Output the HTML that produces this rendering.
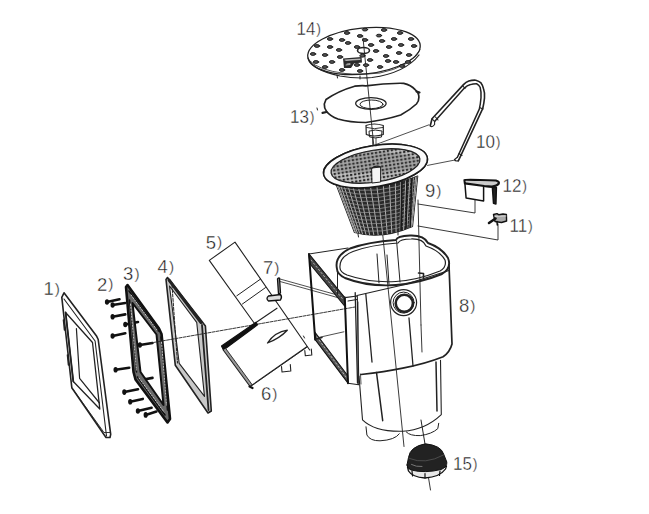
<!DOCTYPE html>
<html><head><meta charset="utf-8"><style>
html,body{margin:0;padding:0;background:#fff;width:649px;height:514px;overflow:hidden}
svg{display:block}
text{font-family:"Liberation Sans",sans-serif;font-size:18.5px;fill:#1a1a1a;stroke:#fff;stroke-width:0.35px}
</style></head><body>
<svg width="649" height="514" viewBox="0 0 649 514">
<defs>
<pattern id="mesh" width="4" height="4" patternUnits="userSpaceOnUse">
<rect width="4" height="4" fill="#2a2a2a"/>
<rect x="1.4" y="1.2" width="2" height="2" fill="#ddd"/>
</pattern>
<pattern id="meshIn" width="4" height="3.6" patternUnits="userSpaceOnUse">
<rect width="4" height="3.6" fill="#c4c4c4"/>
<rect x="0.9" y="0.8" width="2.4" height="2.1" fill="#262626"/>
</pattern>
</defs>
<g fill="none" stroke="#222" stroke-width="1" stroke-linejoin="round" stroke-linecap="round">

<!-- ===== PART 1 frame ===== -->
<g id="p1">
<path d="M61.8,297.4 L64,292.8 L96.7,336.3 L98.2,339.5 L110.7,434.3 L110,437.5 L106,437.5 L71.8,387.7 Z" stroke-width="1.6"/>
<path d="M64,299 L95.1,341 L106.5,436" stroke-width="1.1"/>
<path d="M65.6,312.5 L92.5,342.5 L99.8,409 L73.3,381.5 Z" stroke-width="1.3"/>
<path d="M65.6,312.5 L73.3,381.5" stroke-width="1.8"/>
<path d="M76.4,328.6 L79.6,378.3 L99.5,403" stroke-width="1.2"/>
<path d="M71.8,387.7 L104,432.5 L110.5,432.5" stroke-width="0.9"/>
<path d="M63.5,320 L64.5,330 M67.5,355 L68.5,365" stroke-width="1.6"/>
</g>

<!-- ===== PART 2 screws ===== -->
<g id="p2" stroke="#111" stroke-width="2.6" stroke-linecap="round">
<path d="M107,302 L119.5,299.2"/>
<path d="M112.6,305 L125.3,303"/>
<path d="M112.6,316.7 L125.3,314.4"/>
<path d="M125.3,324.5 L138,322"/>
<path d="M112.6,336 L125.3,333.2"/>
<path d="M139.9,345 L152.5,343"/>
<path d="M115.6,369.7 L129.2,367.8"/>
<path d="M143.8,379.5 L152.5,377.9"/>
<path d="M124.3,392.1 L138,389.2"/>
<path d="M130.2,401.8 L142.8,398.9"/>
<path d="M137.9,411 L151.6,407.7"/>
<path d="M145.7,414.9 L156.4,411.6"/>
</g>
<g fill="#111" stroke="none">
<ellipse cx="107" cy="302" rx="2.1" ry="2.8"/><ellipse cx="112.6" cy="305" rx="2.1" ry="2.8"/><ellipse cx="112.6" cy="316.7" rx="2.1" ry="2.8"/>
<ellipse cx="125.3" cy="324.5" rx="2.1" ry="2.8"/><ellipse cx="112.6" cy="336" rx="2.1" ry="2.8"/><ellipse cx="139.9" cy="345" rx="2.1" ry="2.8"/>
<ellipse cx="115.6" cy="369.7" rx="2.1" ry="2.8"/><ellipse cx="143.8" cy="379.5" rx="2.1" ry="2.8"/><ellipse cx="124.3" cy="392.1" rx="2.1" ry="2.8"/>
<ellipse cx="130.2" cy="401.8" rx="2.1" ry="2.8"/><ellipse cx="137.9" cy="411" rx="2.1" ry="2.8"/><ellipse cx="145.7" cy="414.9" rx="2.1" ry="2.8"/>
</g>

<!-- ===== PART 3 thick frame ===== -->
<g id="p3">
<path d="M126,287 L127.5,285 L159,328.5 L161.5,334 L170,419 L167.5,422.5 L135.5,379.5 L133.5,372 Z M132.5,303 L156.5,334.5 L163.5,405 L140.5,372 Z" fill="#6a6a6a" fill-rule="evenodd" stroke="none"/>
<path d="M126,287 L127.5,285 L159,328.5 L161.5,334 L170,419 L167.5,422.5 L135.5,379.5 L133.5,372 Z" stroke="#111" stroke-width="2.6"/>
<path d="M132.5,303 L156.5,334.5 L163.5,405 L140.5,372 Z" stroke="#111" stroke-width="2"/>
<path d="M129,291 L158.5,331 M137.5,377 L165,415 M129.5,300 L136.5,372 M161,337 L167.5,410" stroke="#111" stroke-width="1.6"/>
<path d="M131,295 L157,330 M139,378 L164,412 M130.5,304 L136.5,370 M161.5,342 L166.5,405" stroke="#ddd" stroke-width="0.9" stroke-dasharray="1.5,1.5"/>
</g>

<!-- ===== PART 4 gasket ===== -->
<g id="p4">
<path d="M166,279.5 L167.5,277.5 L201,320.3 L205.4,326 L211.3,411 L208,413 L175.3,365.3 Z M169.5,286 L196.7,322.3 L204.5,396.4 L179.2,363.3 Z" fill="#c8c8c8" fill-rule="evenodd" stroke="none"/>
<path d="M166,279.5 L167.5,277.5 L201,320.3 L205.4,326 L211.3,411 L208,413 L175.3,365.3 Z" stroke-width="1.6"/>
<path d="M169.5,286 L196.7,322.3 L204.5,396.4 L179.2,363.3 Z" stroke-width="1.1"/>
<path d="M169,280 L201,322.5" stroke-width="3"/>
<path d="M172,285 L177.5,363" stroke-width="1" stroke-dasharray="3,1.5"/>
<path d="M202,325 L208.5,410" stroke-width="1.8"/>
</g>

<!-- dashed axis through frames -->
<path d="M150,343.1 L355,307" stroke-dasharray="3,1.2" stroke-width="0.9"/>

<!-- ===== PART 5 flap ===== -->
<g id="p5">
<path d="M209.3,260.4 L235,242.1 L309.7,350 M209.3,260.4 L254.5,323.5 L277,308.2" stroke-width="1.1"/>
<path d="M236.8,295.8 L260.5,279.1 M242.4,304 L265.5,287.6"/>
</g>

<!-- ===== PART 6 weir ===== -->
<g id="p6">
<path d="M221.5,346 L256,322.3 L257.5,324.8 L223.5,350 Z" fill="#111" stroke="#111" stroke-width="1.2"/>
<path d="M223.2,350 L250,386.5 L252.8,385.4 L225.8,348.4 Z" fill="#999" stroke="none"/>
<path d="M223.2,350 L250,386.5 L307.2,346.5" stroke-width="1.1"/>
<path d="M225.8,348.6 L252.5,385.2 L306.5,347.5" stroke-width="0.9"/>
<path d="M249.5,386.5 L252.5,388" stroke="#111" stroke-width="2.2"/>
<path d="M267.5,343 Q275,332 287.3,330.2 Q280,338 267.5,343 Z" stroke-width="1.3"/>
<path d="M281.5,366.5 L282,372 L290.8,371 L290.3,364.5 M304.8,350.5 L305.3,355.8 L311.8,355 L311.3,349" stroke-width="1.1"/>
<path d="M303.5,336 L304.5,338" stroke-width="1"/>
</g>

<!-- ===== PART 7 ===== -->
<g id="p7">
<path d="M277.5,279 Q278,277.5 279.5,278 L280.5,293 L278.5,294 Z" stroke="#111" stroke-width="1.3" fill="#999"/>
<path d="M268.5,296 L280.5,294.5 Q282.5,297 280.5,300 L268.5,301 Q265.5,298.5 268.5,296 Z" stroke="#111" stroke-width="1.3" fill="#ddd"/>
<path d="M280,279 L341,296 M280,281.5 L341,298.5" stroke-width="0.8"/>
<path d="M316.3,338 L343.9,331.8" stroke-width="0.8"/>
</g>

<!-- ===== PART 8 body ===== -->
<g id="p8">
<!-- flange front plate -->
<path d="M309,254 L344.8,297.6 L344.6,306 L310,264 Z" fill="#444" stroke="#111" stroke-width="1.1"/>
<path d="M315.2,339.6 L348,383.2 L347.6,375.5 L314.8,332 Z" fill="#555" stroke="#111" stroke-width="1.1"/>
<path d="M311,260 L343,299.5 M317,337 L346,377" stroke="#ccc" stroke-width="0.8" stroke-dasharray="1.5,2.5"/>
<path d="M309,254 L315.2,339.6 M344.8,297.6 L348,383.2" stroke="#111" stroke-width="2"/>
<path d="M344.8,297.6 L357.3,296 L358.8,384.7 L348,383.2" stroke-width="1.1"/>
<path d="M309,254 L348,248" stroke-width="1"/>
<path d="M316,339 L322,337.5" stroke-width="1.5"/>
<!-- top front edge -->
<path d="M357,295.5 L405,284.5 L449,270.5" stroke-width="1.2"/>
<path d="M348,301 L357,299.5"/>
<!-- rim -->
<path d="M337,269 Q334,256 350,248.5 Q368,242 396,240 Q397,236 410,235.5 Q424,235 428,243 Q442,248 448,258 Q452,268 442,274 Q420,283 396,285 Q368,287 345,278 Q337,274 337,269 Z" stroke-width="1.9"/>
<path d="M340,268 Q339,257 353,251.5 Q370,245 398,243 Q400,239 411,239 Q423,238.5 426,246 Q440,251 445,260 Q447,267 440,271 Q418,280 396,281.5 Q370,283 347,275 Q340,272 340,268 Z" stroke-width="1.2"/>
<path d="M337.5,272.7 L337.5,294.5" stroke-width="1"/>
<path d="M377,254 L379,283 M396.6,241 L400,282 M387,255 L389,284" stroke-width="1"/>
<path d="M418.5,273 L423.5,273.5 L423.5,278" stroke-width="1.6"/>
<!-- body right edge & bottom -->
<path d="M449,265 L452,344 Q450,352 443.1,356.8 Q425,364 402.8,368.1 Q385,372 361,374.5" stroke-width="1.7"/>
<!-- port -->
<circle cx="403.6" cy="302.6" r="13" stroke-width="1.2"/>
<circle cx="403.6" cy="302.6" r="10.5" stroke-width="1"/>
<circle cx="404.3" cy="303.3" r="8.6" stroke-width="2.6"/>
<!-- verticals on front -->
<path d="M355.2,292.6 L357.5,383 M365.8,294 L372,362 M409,318 L413,366" stroke-width="1.3"/>
<path d="M358,302 L358,383 M360.5,374 L361,384" stroke-width="0.8"/>
<!-- lower cylinder -->
<path d="M359,376 L362.5,419.8 Q375,432 402.8,431.2 Q425,430 441.3,414.6 L440.5,360.3" stroke-width="1.1"/>
<path d="M376.5,372.5 L382.7,420.7 M436,362 L437,411" stroke-width="1.5"/>
<path d="M366,426.8 L366.9,435 Q370,441 380,440.8 Q395,440 399.3,433.8 M406.3,432 Q410,436 420.3,435.6 Q432,434 437.8,428.6 L438.7,423.3" stroke-width="1"/>
</g>

<!-- axis lines -->
<path d="M363,38 L404,446.5 M428.5,477.6 L430.5,490" stroke-width="0.9"/>
<path d="M421,420 L425,444" stroke-width="1"/>

<!-- ===== PART 15 cap ===== -->
<g id="p15">
<path d="M407.5,467 Q425,474.5 446.5,466 L445.5,469 Q440,477 425,478 Q412,477 408.5,471 Z" fill="#e8e8e8" stroke="#111" stroke-width="1.3"/>
<path d="M407,465 L408.5,457.5 Q410,446.5 425.5,443.8 Q441,445.5 443.6,454 L446.8,462 Q447.5,467 441,469.5 Q425,473.5 411,470 Q406.5,468 407,465 Z" fill="#222" stroke="#111" stroke-width="1"/>
<path d="M409.5,458.5 Q425,465 443.5,455" stroke="#555" stroke-width="0.8"/>
<path d="M411.5,464.5 Q416,467 422,466.5" stroke="#777" stroke-width="1"/>
<path d="M412,471 L412.5,476 M425,473.5 L425,478 M440,471 L439.5,475.5" stroke="#111" stroke-width="1.2"/>
</g>

<!-- ===== PART 9 lines ===== -->
<path d="M418,200 L421,325 M421,325 L422,352 M418,204 L475,213 L475,200 M418,226 L498,240 L498,224" stroke-width="0.9"/>

<!-- ===== PART 11 ===== -->
<path d="M493.5,214.5 L497,213.6 L499,214.8 L503,214 L506.4,214.5 L506.6,221 L501.5,222.5 L495,221.5 Z" stroke="#111" stroke-width="1.4" fill="#aaa"/>
<path d="M489,223 L495.5,218.5" stroke="#111" stroke-width="2.6"/>
<path d="M495,216.5 L506,216" stroke="#ddd" stroke-width="0.8"/>
<path d="M497,221.5 L497.3,225" stroke="#111" stroke-width="1.5"/>

<!-- ===== PART 12 ===== -->
<path d="M464.5,180 Q465,179.5 480,180 L495.9,180.5 Q499.5,181.5 498.8,183.5 Q497,186 492,186.5 L484.2,186 L464.9,183.4 Z" stroke="#111" stroke-width="2.2" fill="#ccc"/>
<path d="M466,181.5 L495,182.5" stroke="#ccc" stroke-width="0.8"/>
<path d="M464.9,183.4 L466.1,198 L483.6,200.9 L483.6,186.3" stroke="#111" stroke-width="1.5"/>
<path d="M492.4,187.5 L496.4,187.5 L495.9,203.9 L493.5,203.3 Z" stroke="#111" stroke-width="1.5" fill="#222"/>
<path d="M483.6,186.3 L492.4,187.5" stroke="#111" stroke-width="1.2"/>

<!-- ===== BASKET ===== -->
<g id="basket">
<clipPath id="bclip"><path d="M335.8,183.5 L354.5,232.5 Q382,240 412.5,226.5 L417.7,176 Q377,193 335.8,183.5 Z"/></clipPath>
<path d="M335.8,183.5 L354.5,232.5 Q382,240 412.5,226.5 L417.7,176 Q377,193 335.8,183.5 Z" fill="#2a2a2a" stroke="#222" stroke-width="1.2"/>
<g clip-path="url(#bclip)">
<path d="M336.3,183.6 L354.8,232.6 M337.8,183.9 L355.8,232.9 M340.3,184.5 L357.5,233.3 M343.7,185.1 L359.8,233.7 M347.9,185.7 L362.6,234.2 M352.8,186.3 L366.0,234.7 M358.3,186.7 L369.7,235.0 M364.2,186.9 L373.9,235.2 M370.5,186.8 L378.2,235.1 M376.9,186.4 L382.8,234.8 M383.3,185.6 L387.3,234.2 M389.5,184.6 L391.8,233.3 M395.4,183.3 L396.1,232.3 M400.9,181.9 L400.1,231.2 M405.8,180.4 L403.6,230.0 M409.9,179.0 L406.7,228.9 M413.3,177.8 L409.2,227.9 M415.7,176.8 L411.0,227.1 M417.2,176.2 L412.1,226.7" stroke="#bdbdbd" stroke-width="0.9"/>
<path d="M337.2,187.3 Q377.4,196.6 417.3,179.9 M338.7,191.0 Q377.8,200.2 416.9,183.8 M340.1,194.8 Q378.2,203.8 416.5,187.7 M341.6,198.6 Q378.5,207.5 416.1,191.5 M343.0,202.3 Q378.9,211.1 415.7,195.4 M344.4,206.1 Q379.3,214.7 415.3,199.3 M345.9,209.9 Q379.7,218.3 414.9,203.2 M347.3,213.7 Q380.1,221.9 414.5,207.1 M348.7,217.4 Q380.5,225.5 414.1,211.0 M350.2,221.2 Q380.8,229.2 413.7,214.8 M351.6,225.0 Q381.2,232.8 413.3,218.7 M353.1,228.7 Q381.6,236.4 412.9,222.6" stroke="#999" stroke-width="0.7"/>
<path d="M402,178 L401,232 M407,178 L406,231 M412,177 L410,230" stroke="#1a1a1a" stroke-width="1.6"/>
</g>
<path d="M358,234 L358.5,237 M398,232 L398,235" stroke-width="1"/>
<ellipse cx="375.5" cy="166" rx="45" ry="16" transform="rotate(-9 375.5 166)" fill="url(#meshIn)" stroke="#222" stroke-width="1"/>
<path d="M331,160 Q370,144 418,158 L418,168 Q375,176 333,172 Z" fill="#555" opacity="0.25" stroke="none"/>
<ellipse cx="375.5" cy="166" rx="52.5" ry="20.5" transform="rotate(-9 375.5 166)" stroke="#1a1a1a" stroke-width="1.5"/>
<path d="M375.5,145.5 m-52.5,20.5 a52.5,20.5 0 1,0 105,0 a52.5,20.5 0 1,0 -105,0 M375.5,150 m-45,16 a45,16 0 1,1 90,0 a45,16 0 1,1 -90,0" transform="rotate(-9 375.5 166)" fill="#fafafa" fill-rule="evenodd" stroke="none"/>
<ellipse cx="375.5" cy="166" rx="52.5" ry="20.5" transform="rotate(-9 375.5 166)" stroke="#1a1a1a" stroke-width="1.5"/>
<ellipse cx="375.5" cy="166" rx="45" ry="16" transform="rotate(-9 375.5 166)" stroke="#222" stroke-width="1.1"/>
<path d="M372,168 L380.6,167 L380.6,182 L372.3,183 Z" fill="#f5f5f5" stroke="#222" stroke-width="1"/>
<path d="M372,168 Q376,165 380.6,167" stroke="#222" stroke-width="1.3"/>
<path d="M369.4,131 Q375,129 382,131 L381.5,137 Q375,139 369.8,137 Z" stroke-width="1"/>
<path d="M372.5,138 L372.7,146 M376,138 L376,146" stroke-width="0.8"/>
</g>

<!-- ===== PART 10 handle ===== -->
<g id="p10">
<path d="M430.3,125.8 L432,118.8 L463.5,84.6 Q466,82 468.8,81.1 Q472,80 475.8,80.2 Q479,81 481,82.9 Q483,85.5 483.6,89 Q485,93 484.5,97.8 Q484,103 482.8,108.3 L460,157.3 L458.3,160.8" stroke-width="1.6"/>
<path d="M434.6,121.4 L464.4,88.1 Q467,85.5 470.5,84.6 Q473,83.7 476.6,83.75 Q479,85 480.1,87.25 Q481.5,92 481,97.8 Q480.5,104 479.3,109.1 L457.4,157.3" stroke-width="1.5"/>
<path d="M432,118.8 L434.6,121.4 M435.5,117 L438,120 M462.5,85.5 L465,88.5 M479.5,107.5 L483,109 M459,153.5 L462,155.5 M430.3,125.8 Q432,128 434.6,124.5 L434.6,121.4 M458.3,160.8 Q455,161.5 454.5,159.5 L457.4,157.3" stroke-width="1.1"/>
<path d="M429,124.8 L376,144.5 M455,160 L427.5,165.4" stroke-width="0.8"/>
</g>

<!-- ===== PART 13 plate ===== -->
<g id="p13">
<path d="M324.3,104 L326,99.5 Q338,91 354.7,86.2 Q360,85.5 365.8,85.8 Q385,83 403.7,83.3 Q411,85 415.1,89.6 Q419,93 418.9,97.2 Q419,101 416.4,104 Q410,110 400.7,115 Q384.7,120 365.8,122.5 Q350,122.5 338,119 Q330,116 326.6,111.5 Q324,108 324.3,104 Z" stroke-width="1.7"/>
<path d="M322.5,112.8 L326.5,112 M416.5,91.5 L419.5,92.5" stroke-width="2.2"/>
<ellipse cx="370.9" cy="103.5" rx="15.2" ry="5.8" stroke-width="1.3"/>
<ellipse cx="371.5" cy="104.3" rx="11.5" ry="4.3" stroke-width="1"/>
<path d="M366,125.5 L366.3,134.5 Q374,137.5 383.3,134.5 L383.3,125.5 Q374,122.5 366,125.5 Z" stroke-width="1.2"/>
<path d="M366.5,127.5 Q374,130 383,127.5" stroke-width="0.9"/>
<path d="M317,108 L317.5,110" stroke-width="1"/>
</g>

<!-- ===== PART 14 lid ===== -->
<g id="p14">
<ellipse cx="364" cy="51" rx="56.5" ry="23" transform="rotate(-6 364 51)" stroke-width="1.3"/>
<path d="M308,58 Q312,70 340,76 Q356,79 372,77.5 Q405,73 419,55" stroke-width="1.2"/>
<path d="M310,61 Q318,70 345,73.5 Q360,75 380,73 Q410,67 420,50" stroke-width="0.8"/>
<path d="M337,75 L337.5,78 M360,76 L360,79" stroke-width="1"/>
<ellipse cx="363.5" cy="50.5" rx="6" ry="3" stroke-width="1.6"/>
<g fill="#555" stroke="#151515" stroke-width="0.9">
<ellipse cx="347" cy="33" rx="2.7" ry="1.4"/><ellipse cx="365" cy="29.6" rx="2.7" ry="1.4"/><ellipse cx="384" cy="30" rx="2.7" ry="1.4"/><ellipse cx="400" cy="33" rx="2.7" ry="1.4"/>
<ellipse cx="330" cy="39" rx="2.7" ry="1.4"/><ellipse cx="342" cy="40" rx="2.7" ry="1.4"/><ellipse cx="360" cy="36" rx="2.7" ry="1.4"/><ellipse cx="379" cy="35.6" rx="2.7" ry="1.4"/><ellipse cx="394" cy="39" rx="2.7" ry="1.4"/><ellipse cx="411" cy="39" rx="2.7" ry="1.4"/>
<ellipse cx="317" cy="46" rx="2.7" ry="1.4"/><ellipse cx="330" cy="47" rx="2.7" ry="1.4"/><ellipse cx="348" cy="43" rx="2.7" ry="1.4"/><ellipse cx="365" cy="40" rx="2.7" ry="1.4"/><ellipse cx="382" cy="41" rx="2.7" ry="1.4"/><ellipse cx="401" cy="45" rx="2.7" ry="1.4"/><ellipse cx="414" cy="46" rx="2.7" ry="1.4"/>
<ellipse cx="313" cy="54" rx="2.7" ry="1.4"/><ellipse cx="325" cy="55" rx="2.7" ry="1.4"/><ellipse cx="339" cy="50" rx="2.7" ry="1.4"/><ellipse cx="357" cy="47" rx="2.7" ry="1.4"/><ellipse cx="371" cy="45" rx="2.7" ry="1.4"/><ellipse cx="389" cy="47" rx="2.7" ry="1.4"/><ellipse cx="399" cy="53" rx="2.7" ry="1.4"/><ellipse cx="409" cy="55" rx="2.7" ry="1.4"/>
<ellipse cx="316" cy="62" rx="2.7" ry="1.4"/><ellipse cx="332" cy="62" rx="2.7" ry="1.4"/><ellipse cx="340" cy="57" rx="2.7" ry="1.4"/><ellipse cx="376" cy="51" rx="2.7" ry="1.4"/><ellipse cx="386" cy="56" rx="2.7" ry="1.4"/><ellipse cx="408" cy="62" rx="2.7" ry="1.4"/>
<ellipse cx="325" cy="67" rx="2.7" ry="1.4"/><ellipse cx="357" cy="65" rx="2.7" ry="1.4"/><ellipse cx="370" cy="60" rx="2.7" ry="1.4"/><ellipse cx="388" cy="61" rx="2.7" ry="1.4"/><ellipse cx="396" cy="62" rx="2.7" ry="1.4"/>
<ellipse cx="342" cy="70" rx="2.7" ry="1.4"/><ellipse cx="360" cy="71" rx="2.7" ry="1.4"/><ellipse cx="380" cy="67" rx="2.7" ry="1.4"/><ellipse cx="402" cy="66" rx="2.7" ry="1.4"/>
<ellipse cx="362.4" cy="55.8" rx="2.7" ry="1.4"/><ellipse cx="366" cy="65.1" rx="2.7" ry="1.4"/><path d="M343,58.5 L361.5,57 L362,62.5 L354,63.5 L351,68 L344,68 Z" fill="#2a2a2a" stroke="none"/><path d="M345,60 L360,59 M346,65 L350,64.5" stroke="#ddd" stroke-width="0.7" fill="none"/><path d="M346,60.5 L360,59.5 M347,64 L350,63.5" stroke="#eee" stroke-width="0.6" fill="none"/>
</g>
</g>

</g>

<!-- ===== LABELS ===== -->
<g>
<text x="43.4" y="295.0">1<tspan dx="1" dy="-1.3" font-size="15.5px">)</tspan></text>
<text x="97.0" y="290.6">2<tspan dx="1" dy="-1.3" font-size="15.5px">)</tspan></text>
<text x="123.1" y="280.0">3<tspan dx="1" dy="-1.3" font-size="15.5px">)</tspan></text>
<text x="157.6" y="273.4">4<tspan dx="1" dy="-1.3" font-size="15.5px">)</tspan></text>
<text x="205.8" y="248.5">5<tspan dx="1" dy="-1.3" font-size="15.5px">)</tspan></text>
<text x="263.0" y="274.0">7<tspan dx="1" dy="-1.3" font-size="15.5px">)</tspan></text>
<text x="261.0" y="400.3">6<tspan dx="1" dy="-1.3" font-size="15.5px">)</tspan></text>
<text x="459.0" y="312.4">8<tspan dx="1" dy="-1.3" font-size="15.5px">)</tspan></text>
<text x="425.0" y="197.0">9<tspan dx="1" dy="-1.3" font-size="15.5px">)</tspan></text>
<text x="476.0" y="148.0" transform="translate(476.0,0) scale(0.92,1) translate(-476.0,0)">10<tspan dx="1" dy="-1.3" font-size="15.5px">)</tspan></text>
<text x="509.5" y="232.1" transform="translate(509.5,0) scale(0.92,1) translate(-509.5,0)">11<tspan dx="1" dy="-1.3" font-size="15.5px">)</tspan></text>
<text x="502.5" y="192.0" transform="translate(502.5,0) scale(0.92,1) translate(-502.5,0)">12<tspan dx="1" dy="-1.3" font-size="15.5px">)</tspan></text>
<text x="290.0" y="123.0" transform="translate(290.0,0) scale(0.92,1) translate(-290.0,0)">13<tspan dx="1" dy="-1.3" font-size="15.5px">)</tspan></text>
<text x="296.5" y="35.0" transform="translate(296.5,0) scale(0.92,1) translate(-296.5,0)">14<tspan dx="1" dy="-1.3" font-size="15.5px">)</tspan></text>
<text x="453.0" y="470.0" transform="translate(453.0,0) scale(0.92,1) translate(-453.0,0)">15<tspan dx="1" dy="-1.3" font-size="15.5px">)</tspan></text>
</g>
</svg>
</body></html>
